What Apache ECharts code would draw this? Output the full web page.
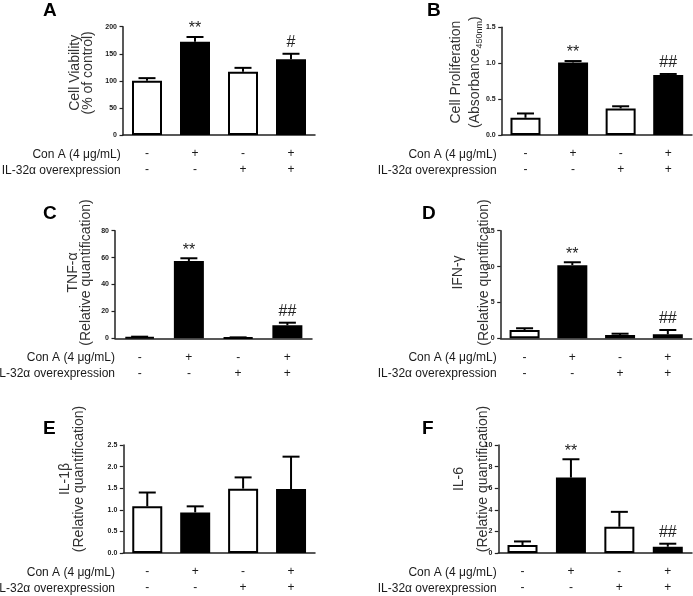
<!DOCTYPE html>
<html>
<head>
<meta charset="utf-8">
<script src="https://cdn.jsdelivr.net/npm/echarts@6/dist/echarts.min.js"></script>
<style>
html,body{margin:0;padding:0;background:#fff;}
#chart{width:693px;height:596px;}
</style>
</head>
<body>
<div id="chart"></div>
<script>
// ---- data ----
const conA = ['-', '+', '-', '+'];
const il32 = ['-', '-', '+', '+'];
const rowLabels = ['Con A (4 μg/mL)', 'IL-32α overexpression'];
const panelLetters = ['A', 'B', 'C', 'D', 'E', 'F'];

const viabilityMean = [100, 172, 117, 140];
const viabilitySem  = [5, 9, 7, 10];
const viabilitySig  = ['', '**', '', '#'];

const prolifMean = [0.24, 1.01, 0.37, 0.835];
const prolifSem  = [0.06, 0.02, 0.03, 0.015];
const prolifSig  = ['', '**', '', '##'];

const tnfMean = [1.0, 57.5, 0.6, 9.7];
const tnfSem  = [0.2, 2.0, 0.1, 1.9];
const tnfSig  = ['', '**', '', '##'];

const ifnMean = [1.16, 10.2, 0.46, 0.56];
const ifnSem  = [0.24, 0.4, 0.18, 0.6];
const ifnSig  = ['', '**', '', '##'];

const il1Mean = [1.08, 0.94, 1.49, 1.48];
const il1Sem  = [0.32, 0.14, 0.26, 0.75];
const il1Sig  = ['', '', '', ''];

const il6Mean = [0.74, 6.98, 2.43, 0.58];
const il6Sem  = [0.33, 1.7, 1.38, 0.28];
const il6Sig  = ['', '**', '', '##'];

const yTitles = [
  '{t|Cell Viability}\n{t|(% of control)}',
  '{t|Cell Proliferation}\n{t|(Absorbance}{s|450nm}{t|)}',
  '{t|TNF-α}\n{t|(Relative quantification)}',
  '{t|IFN-γ}\n{t|(Relative quantification)}',
  '{t|IL-1β}\n{t|(Relative quantification)}',
  '{t|IL-6}\n{t|(Relative quantification)}'
];
const yMax = [200, 1.5, 80, 15, 2.5, 10];
const yStep = [50, 0.5, 20, 5, 0.5, 2];
const yDecimals = [0, 1, 0, 0, 1, 0];

const categories = conA.map((c, i) => c + '\n' + il32[i]);

// ---- layout / style ----
const FONT = '"Liberation Sans", Arial, sans-serif';
const TXT = '#1a1a1a';
const fills = ['#ffffff', '#000000', '#ffffff', '#000000'];
const grids = [
  {left: 123,   top: 26.7,  width: 192,   height: 108.3},
  {left: 501.7, top: 27.3,  width: 190.3, height: 107.7},
  {left: 115,   top: 230.7, width: 197,   height: 107.6},
  {left: 500.7, top: 230.7, width: 191,   height: 107.6},
  {left: 123.3, top: 445,   width: 191.7, height: 108.3},
  {left: 498.3, top: 445,   width: 193.7, height: 108.3}
];
const nameGaps = [28, 17.5, 22, 3.7, 36.5, 3.6];
const nameLH = [13.5, 19, 13.5, 26, 14.5, 24];
const nameShift = [16, 18, 24, 24, 40, 40];
const rowRight = [120.7, 496.7, 115, 496.7, 115, 496.7];
const letterPos = [[43, 11], [427, 11], [43, 214], [422, 214], [43, 429], [422, 429]];

const panels = [
  [viabilityMean, viabilitySem, viabilitySig],
  [prolifMean, prolifSem, prolifSig],
  [tnfMean, tnfSem, tnfSig],
  [ifnMean, ifnSem, ifnSig],
  [il1Mean, il1Sem, il1Sig],
  [il6Mean, il6Sem, il6Sig]
];

const option = {
  backgroundColor: '#fff',
  animation: false,
  grid: grids,
  xAxis: [], yAxis: [], series: [], graphic: []
};

panels.forEach((p, k) => {
  const [means, sems, sigs] = p;
  option.xAxis.push({
    type: 'category', gridIndex: k, data: categories,
    axisLine: {lineStyle: {color: '#222', width: 1.5}},
    axisTick: {alignWithLabel: true, length: 3, lineStyle: {color: '#222', width: 1.2}},
    axisLabel: {margin: 11, fontFamily: FONT, fontSize: 12, lineHeight: 16, color: TXT}
  });
  option.yAxis.push({
    type: 'value', gridIndex: k, min: 0, max: yMax[k], interval: yStep[k],
    splitLine: {show: false},
    axisLine: {show: true, lineStyle: {color: '#222', width: 1.5}},
    axisTick: {show: true, length: 3.5, lineStyle: {color: '#222', width: 1.2}},
    axisLabel: {margin: 6, fontFamily: FONT, fontSize: 7, fontWeight: 'bold', color: TXT,
      formatter: v => v.toFixed(yDecimals[k])},
    name: yTitles[k], nameLocation: 'middle', nameRotate: 90, nameGap: nameGaps[k],
    nameMoveOverlap: false,
    nameTextStyle: {
      padding: [0, 0, 0, nameShift[k]],
      rich: {
        t: {fontFamily: FONT, fontSize: 14, color: '#333', lineHeight: nameLH[k]},
        s: {fontFamily: FONT, fontSize: 9, color: '#333', lineHeight: 9, verticalAlign: 'bottom'}
      }
    }
  });
  option.series.push({
    type: 'bar', xAxisIndex: k, yAxisIndex: k, barWidth: 30,
    itemStyle: {borderColor: '#000', borderWidth: 2},
    data: means.map((v, i) => ({value: v, itemStyle: {color: fills[i]}})),
    z: 2
  });
  option.series.push({
    type: 'custom', xAxisIndex: k, yAxisIndex: k, z: 3, clip: false,
    data: means.map((m, i) => [i, m, m + sems[i]]),
    renderItem: (params, api) => {
      const i = api.value(0);
      const p0 = api.coord([i, api.value(1)]);
      const p1 = api.coord([i, api.value(2)]);
      const ch = [
        {type: 'line', shape: {x1: p0[0], y1: p0[1], x2: p1[0], y2: p1[1]}, style: {stroke: '#000', lineWidth: 2}},
        {type: 'line', shape: {x1: p1[0] - 8.5, y1: p1[1], x2: p1[0] + 8.5, y2: p1[1]}, style: {stroke: '#000', lineWidth: 2}}
      ];
      const s = sigs[params.dataIndex];
      if (s) {
        const off = s.charAt(0) === '*' ? 0 : -3;
        ch.push({type: 'text', x: p1[0], y: p1[1] + off,
          style: {text: s, fill: '#222', font: '16px ' + FONT, align: 'center', verticalAlign: 'bottom'}});
      }
      return {type: 'group', children: ch};
    }
  });
  // row labels of the condition table
  const axisY = grids[k].top + grids[k].height;
  rowLabels.forEach((lab, r) => {
    option.graphic.push({
      type: 'text', x: rowRight[k], y: axisY + 19.5 + r * 16,
      style: {text: lab, fill: TXT, font: '12px ' + FONT, align: 'right', verticalAlign: 'middle'}
    });
  });
  option.graphic.push({
    type: 'text', x: letterPos[k][0], y: letterPos[k][1],
    style: {text: panelLetters[k], fill: '#000', font: 'bold 19px ' + FONT, align: 'left', verticalAlign: 'middle'}
  });
});

const chart = echarts.init(document.getElementById('chart'), null, {renderer: 'canvas'});
chart.setOption(option);
</script>
</body>
</html>
